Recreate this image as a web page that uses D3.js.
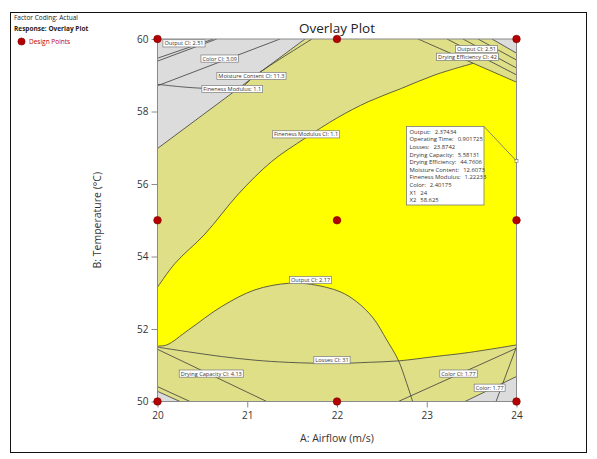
<!DOCTYPE html>
<html>
<head>
<meta charset="utf-8">
<script src="https://cdn.jsdelivr.net/npm/d3@7"></script>
<style>
  body { margin: 0; background: #fff; }
  svg { display: block; font-family: "Open Sans", "Noto Sans", sans-serif; }
</style>
</head>
<body>
<svg id="chart" width="597" height="459"></svg>
<script>
// ---- data: factor ranges, design points and constraint boundaries ([airflow, temperature]) ----
const airflowTicks = [20, 21, 22, 23, 24];
const temperatureTicks = [50, 52, 54, 56, 58, 60];
const designPoints = [[20, 50], [22, 50], [24, 50], [20, 55], [22, 55], [24, 55], [20, 60], [22, 60], [24, 60]];

const finenessModulusCI = [[20, 53.15], [20.195, 53.81], [20.529, 54.62], [20.9, 55.72], [21.272, 56.62], [21.643, 57.26],
  [22.006, 57.83], [22.349, 58.27], [22.721, 58.64], [23.092, 59.01], [23.519, 59.33]];
const dryingEfficiencyCI = [[22.903, 60], [23.519, 59.33], [24, 58.81]];
const outputCI217 = [[20, 51.53], [20.103, 51.56], [20.343, 51.97], [20.715, 52.62], [21.086, 53.08], [21.457, 53.26],
  [21.718, 53.23], [22.033, 53.03], [22.22, 52.75], [22.404, 52.3], [22.554, 51.7], [22.683, 51.14], [22.777, 50.5], [22.843, 50]];
const lossesCI = [[20, 51.5], [20.343, 51.37], [20.715, 51.24], [21.086, 51.14], [21.457, 51.08], [21.978, 51.05],
  [22.349, 51.08], [22.683, 51.12], [23.092, 51.24], [23.463, 51.35], [24, 51.56]];
const moistureContentCI = [[20, 56.98], [21.643, 60]];
const finenessModulus = [[20, 58.75], [20.27, 58.68], [20.51, 58.64], [20.897, 58.62], [21.097, 59.01], [21.721, 60]];
const colorCI309 = [[20, 58.71], [21.365, 60]];
const outputCI251a = [[20, 59.47], [20.622, 60]];
const outputCI251b = [[20, 59.39], [20.66, 60]];
const upperRightA = [[23.226, 60], [24, 59.01]];
const upperRightB = [[23.404, 60], [24, 59.2]];
const upperRightC = [[23.571, 60], [24, 59.42]];
const outputCI251c = [[23.727, 60], [24, 59.61]];
const dryingCapacityCI = [[20, 51.44], [21.217, 50]];
const lowerLeftA = [[20, 50.41], [20.362, 50]];
const lowerLeftB = [[20, 50.28], [20.251, 50]];
const colorCI177 = [[24, 51.47], [22.683, 50]];
const lowerRightA = [[24, 51.51], [23.772, 50]];
const color177 = [[23.426, 50], [24, 50.69]];

const contourLabels = [
  { text: "Output CI: 2.51", at: [20.295, 59.88] },
  { text: "Color CI: 3.09", at: [20.693, 59.46] },
  { text: "Moisture Content CI: 11.3", at: [21.047, 58.98] },
  { text: "Fineness Modulus: 1.1", at: [20.833, 58.62] },
  { text: "Fineness Modulus CI: 1.1", at: [21.655, 57.37] },
  { text: "Output CI: 2.51", at: [23.554, 59.72] },
  { text: "Drying Efficiency CI: 42", at: [23.454, 59.51] },
  { text: "Output CI: 2.17", at: [21.705, 53.35] },
  { text: "Losses CI: 31", at: [21.944, 51.14] },
  { text: "Drying Capacity CI: 4.13", at: [20.599, 50.77] },
  { text: "Color CI: 1.77", at: [23.354, 50.77] },
  { text: "Color: 1.77", at: [23.701, 50.38] }
];

const readoutNames = ["Output:", "Operating Time:", "Losses:", "Drying Capacity:", "Drying Efficiency:",
  "Moisture Content:", "Fineness Modulus:", "Color:", "X1", "X2"];
const readoutValues = ["2.37434", "0.901725", "23.8742", "5.58131", "44.7606", "12.6073", "1.22233", "2.40175", "24", "58.625"];

// ---- layout ----
const svg = d3.select("#chart");
const plot = { left: 157.5, right: 516.5, top: 39, bottom: 401.5 };
const x = d3.scaleLinear().domain([20, 24]).range([plot.left, plot.right]);
const y = d3.scaleLinear().domain([50, 60]).range([plot.bottom, plot.top]);

const colors = { khaki: "#dfdf88", grey: "#dcdcdc", feasible: "#ffff00", line: "#3c3c3c", frame: "#8a8a8a", text: "#333" };

// outer frame
svg.append("rect").attr("x", 10.5).attr("y", 12.5).attr("width", 576).attr("height", 440)
  .attr("fill", "none").attr("stroke", "#111").attr("stroke-width", 1);

// legend block
svg.append("text").attr("x", 14).attr("y", 20).attr("font-size", 6.5).attr("fill", "#222").text("Factor Coding: Actual");
svg.append("text").attr("x", 14).attr("y", 31).attr("font-size", 6.5).attr("font-weight", "bold").attr("fill", "#222").text("Response: Overlay Plot");
svg.append("circle").attr("cx", 21.5).attr("cy", 41.5).attr("r", 3.6).attr("fill", "#b40000").attr("stroke", "#7a0000").attr("stroke-width", 0.6);
svg.append("text").attr("x", 29).attr("y", 44).attr("font-size", 6.5).attr("fill", "#c00000").text("Design Points");

// title
svg.append("text").attr("x", (plot.left + plot.right) / 2).attr("y", 33).attr("text-anchor", "middle")
  .attr("font-size", 13.5).attr("fill", "#222").text("Overlay Plot");

const clip = svg.append("defs").append("clipPath").attr("id", "plotClip");
clip.append("rect").attr("x", plot.left).attr("y", plot.top).attr("width", plot.right - plot.left).attr("height", plot.bottom - plot.top);

const g = svg.append("g").attr("clip-path", "url(#plotClip)");

const smooth = d3.line().x(d => x(d[0])).y(d => y(d[1])).curve(d3.curveCatmullRom.alpha(0.5));
function joined(segments) {
  return segments.map((s, i) => {
    const d = smooth(s);
    return i ? d.replace(/^M/, "L") : d;
  }).join("") + "Z";
}

// background: constraint-satisfied-within-CI band
g.append("rect").attr("x", plot.left).attr("y", plot.top).attr("width", plot.right - plot.left).attr("height", plot.bottom - plot.top)
  .attr("fill", colors.khaki);

// infeasible corners
const greyRegions = [
  moistureContentCI.concat([[20, 60]]),
  outputCI251c.concat([[24, 60]]),
  lowerLeftB.concat([[20, 50]]),
  color177.concat([[24, 50]])
];
g.selectAll("path.grey").data(greyRegions).join("path").attr("class", "grey")
  .attr("d", d => d3.line().x(p => x(p[0])).y(p => y(p[1]))(d) + "Z")
  .attr("fill", colors.grey);

// feasible window
const feasible = joined([
  finenessModulusCI,
  dryingEfficiencyCI.slice(1),
  [[24, 58.81], [24, 51.56]],
  lossesCI.filter(p => p[0] >= 22.68).reverse(),
  outputCI217.filter(p => p[0] <= 22.69).reverse()
]);
g.append("path").attr("d", feasible).attr("fill", colors.feasible);

// constraint lines
const contourLines = [finenessModulusCI, dryingEfficiencyCI, outputCI217, lossesCI, moistureContentCI, finenessModulus,
  colorCI309, outputCI251a, outputCI251b, upperRightA, upperRightB, upperRightC, outputCI251c,
  dryingCapacityCI, lowerLeftA, lowerLeftB, colorCI177, lowerRightA, color177];
g.selectAll("path.contour").data(contourLines).join("path").attr("class", "contour")
  .attr("d", d => smooth(d))
  .attr("fill", "none").attr("stroke", colors.line).attr("stroke-width", 0.8);

// axes
const yAxis = d3.axisLeft(y).tickValues(temperatureTicks).tickSize(6).tickPadding(3).tickFormat(d3.format("d"));
const xAxis = d3.axisBottom(x).tickValues(airflowTicks).tickSize(6).tickPadding(4).tickFormat(d3.format("d"));
const ya = svg.append("g").attr("transform", `translate(${plot.left},0)`).call(yAxis);
const xa = svg.append("g").attr("transform", `translate(0,${plot.bottom})`).call(xAxis);
[ya, xa].forEach(a => {
  a.select(".domain").remove();
  a.selectAll(".tick line").attr("stroke", colors.frame);
  a.selectAll(".tick text").attr("font-size", 10).attr("fill", colors.text).attr("font-family", "'Open Sans','Noto Sans',sans-serif");
});

svg.append("rect").attr("x", plot.left).attr("y", plot.top).attr("width", plot.right - plot.left).attr("height", plot.bottom - plot.top)
  .attr("fill", "none").attr("stroke", colors.frame).attr("stroke-width", 1);

svg.append("text").attr("x", (plot.left + plot.right) / 2).attr("y", 442).attr("text-anchor", "middle")
  .attr("font-size", 10.5).attr("fill", colors.text).text("A: Airflow (m/s)");
svg.append("text").attr("transform", `translate(101,${(plot.top + plot.bottom) / 2}) rotate(-90)`).attr("text-anchor", "middle")
  .attr("font-size", 10.5).attr("fill", colors.text).text("B: Temperature (°C)");

// contour labels
const lab = svg.selectAll("g.clabel").data(contourLabels).join("g").attr("class", "clabel")
  .attr("transform", d => `translate(${x(d.at[0])},${y(d.at[1])})`);
lab.append("rect").attr("fill", "#fff").attr("stroke", "#7a7a7a").attr("stroke-width", 0.7);
lab.append("text").attr("text-anchor", "middle").attr("dy", "0.35em").attr("font-size", 5.6).attr("fill", "#333").text(d => d.text);
lab.each(function () {
  const t = d3.select(this).select("text").node();
  const w = t.getComputedTextLength() + 3;
  d3.select(this).select("rect").attr("x", -w / 2).attr("y", -3.6).attr("width", w).attr("height", 7.2);
});

// point readout
const box = { x: 406.5, y: 126.5, w: 77.5, h: 78.5 };
svg.append("line").attr("x1", box.x + box.w).attr("y1", box.y).attr("x2", plot.right).attr("y2", box.y + 34.5)
  .attr("stroke", "#6a6a6a").attr("stroke-width", 0.8);
svg.append("rect").attr("x", plot.right - 1.5).attr("y", box.y + 33).attr("width", 3).attr("height", 3)
  .attr("fill", "#fff").attr("stroke", "#6a6a6a").attr("stroke-width", 0.6);
svg.append("rect").attr("x", box.x).attr("y", box.y).attr("width", box.w).attr("height", box.h)
  .attr("fill", "#fff").attr("stroke", "#7a7a7a").attr("stroke-width", 0.8);
const rt = svg.append("text").attr("font-size", 5.9).attr("fill", "#333").attr("xml:space", "preserve");
readoutNames.forEach((n, i) => {
  const row = rt.append("tspan").attr("x", box.x + 3).attr("y", box.y + 7.2 + i * 7.6);
  row.text(n);
  rt.append("tspan").attr("dx", 4).text(readoutValues[i]);
});

// design points
svg.selectAll("circle.dp").data(designPoints).join("circle").attr("class", "dp")
  .attr("cx", d => x(d[0])).attr("cy", d => y(d[1])).attr("r", 3.8)
  .attr("fill", "#b40000").attr("stroke", "#7a0000").attr("stroke-width", 0.6);
</script>
</body>
</html>
